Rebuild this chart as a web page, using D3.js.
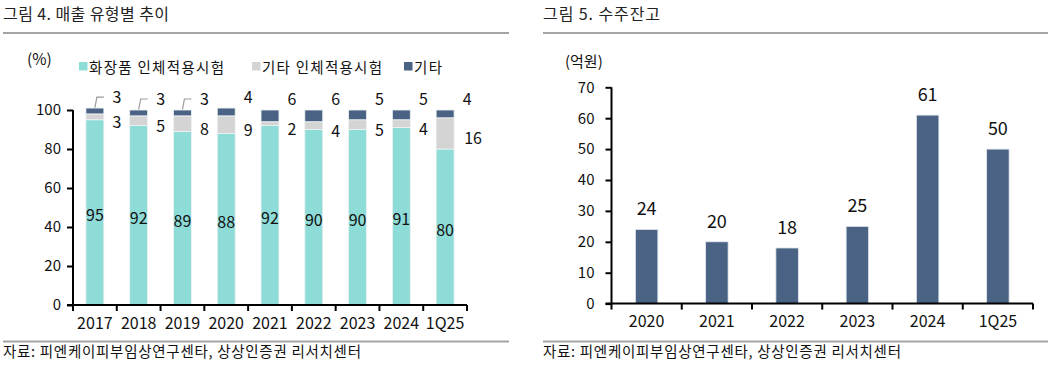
<!DOCTYPE html>
<html>
<head>
<meta charset="utf-8">
<script src="https://cdn.jsdelivr.net/npm/d3@7"></script>
<style>
  html, body { margin: 0; padding: 0; background: #fff; }
  svg { display: block; font-family: "Noto Sans CJK KR", "Noto Sans", sans-serif; }
</style>
</head>
<body>
<svg id="chart" width="1060" height="380"></svg>
<script>
// ---------- Data ----------
const leftTitle = "그림 4. 매출 유형별 추이";
const rightTitle = "그림 5. 수주잔고";
const sourceText = "자료: 피엔케이피부임상연구센타, 상상인증권 리서치센터";

const salesCategories = ["2017", "2018", "2019", "2020", "2021", "2022", "2023", "2024", "1Q25"];
const seriesNames = ["화장품 인체적용시험", "기타 인체적용시험", "기타"];
const cosmeticTrials = [95, 92, 89, 88, 92, 90, 90, 91, 80];
const otherTrials = [3, 5, 8, 9, 2, 4, 5, 4, 16];
const others = [3, 3, 3, 4, 6, 6, 5, 5, 4];
const leaderCategories = ["2017", "2018", "2019"];
const leftTicks = [0, 20, 40, 60, 80, 100];
const leftUnit = "(%)";

const backlogCategories = ["2020", "2021", "2022", "2023", "2024", "1Q25"];
const backlogValues = [24, 20, 18, 25, 61, 50];
const rightTicks = [0, 10, 20, 30, 40, 50, 60, 70];
const rightUnit = "(억원)";

// ---------- Styles ----------
const colors = ["#8edcd8", "#d4d4d4", "#4a6385"];
const textColor = "#111";
const ruleColor = "#a5a5a5";

const svg = d3.select("#chart");

// ---------- Headers / footers ----------
function frame(x0, x1, title, titleLen) {
  svg.append("text").attr("x", x0).attr("y", 20).attr("font-size", 16).attr("fill", "#222")
    .attr("textLength", titleLen).attr("lengthAdjust", "spacing").text(title);
  svg.append("line").attr("x1", x0).attr("x2", x1).attr("y1", 33).attr("y2", 33)
    .attr("stroke", ruleColor).attr("stroke-width", 2);
  svg.append("line").attr("x1", x0).attr("x2", x1).attr("y1", 341.5).attr("y2", 341.5)
    .attr("stroke", ruleColor).attr("stroke-width", 2);
  svg.append("text").attr("x", x0).attr("y", 357).attr("font-size", 14.5).attr("fill", "#111")
    .attr("textLength", 358).attr("lengthAdjust", "spacing").text(sourceText);
}
frame(3, 509, leftTitle, 166);
frame(543, 1048, rightTitle, 117);

// ---------- Left chart: stacked bars ----------
{
  const x = d3.scaleBand().domain(salesCategories).range([73, 467]).padding(0);
  const y = d3.scaleLinear().domain([0, 100]).range([305, 110]);
  const barW = x.bandwidth() * 0.41;
  const rows = salesCategories.map((c, i) => ({cat: c, s0: cosmeticTrials[i], s1: otherTrials[i], s2: others[i]}));
  const stack = d3.stack().keys(["s0", "s1", "s2"])(rows);

  const g = svg.append("g");
  stack.forEach((layer, li) => {
    g.selectAll(null).data(layer).enter().append("rect")
      .attr("x", d => x(d.data.cat) + x.bandwidth() / 2 - barW / 2)
      .attr("width", barW)
      .attr("y", d => y(d[1]))
      .attr("height", d => y(d[0]) - y(d[1]))
      .attr("fill", colors[li])
      .attr("stroke", "#eef3f3").attr("stroke-width", 0.8);
  });

  // axes
  const yAxis = d3.axisLeft(y).tickValues(leftTicks).tickSize(6).tickPadding(6);
  const ya = g.append("g").attr("transform", "translate(73,0)").call(yAxis);
  ya.select(".domain").attr("stroke", "#000").attr("stroke-width", 2).attr("d", "M0,110V305");
  ya.selectAll(".tick line").attr("stroke", "#000").attr("stroke-width", 2);
  ya.selectAll(".tick text").attr("font-size", 15).attr("fill", textColor).attr("font-family", "'Noto Sans CJK KR', sans-serif");

  const xAxis = d3.axisBottom(x).tickSize(0).tickPadding(13);
  const xa = g.append("g").attr("transform", "translate(0,305)").call(xAxis);
  xa.select(".domain").attr("stroke", "#000").attr("stroke-width", 2).attr("d", "M67,0H467");
  xa.selectAll(".tick text").attr("font-size", 16).attr("fill", textColor).attr("font-family", "'Noto Sans CJK KR', sans-serif");
  g.selectAll(null).data(salesCategories.concat(["__end"])).enter().append("line")
    .attr("x1", (d, i) => 73 + i * x.step()).attr("x2", (d, i) => 73 + i * x.step())
    .attr("y1", 305).attr("y2", 311).attr("stroke", "#000").attr("stroke-width", 2);

  // labels
  const cx = c => x(c) + x.bandwidth() / 2;
  g.selectAll(null).data(stack[0]).enter().append("text")
    .attr("x", d => cx(d.data.cat)).attr("y", d => (y(d[0]) + y(d[1])) / 2 + 2)
    .attr("text-anchor", "middle").attr("dominant-baseline", "central")
    .attr("font-size", 16).attr("fill", textColor).text(d => d.data.s0);
  g.selectAll(null).data(stack[1]).enter().append("text")
    .attr("x", d => cx(d.data.cat) + 22 + (String(d.data.s1).length - 1) * 6).attr("y", d => (y(d[0]) + y(d[1])) / 2 + 4)
    .attr("text-anchor", "middle").attr("dominant-baseline", "central")
    .attr("font-size", 16).attr("fill", textColor).text(d => d.data.s1);
  g.selectAll(null).data(stack[2]).enter().append("text")
    .attr("x", d => cx(d.data.cat) + 22).attr("y", d => y(d[1]) - 12)
    .attr("text-anchor", "middle").attr("dominant-baseline", "central")
    .attr("font-size", 16).attr("fill", textColor).text(d => d.data.s2);
  g.selectAll(null).data(stack[2].filter(d => leaderCategories.includes(d.data.cat))).enter().append("path")
    .attr("d", d => {
      const c = cx(d.data.cat), top = y(d[1]), ly = y(d[1]) - 11;
      return `M${c},${top - 0.5}L${c + 2},${ly}L${c + 9},${ly}`;
    })
    .attr("fill", "none").attr("stroke", "#9a9a9a").attr("stroke-width", 1.2);

  // unit + legend
  g.append("text").attr("x", 27).attr("y", 58).attr("dominant-baseline", "central")
    .attr("font-size", 15.5).attr("fill", textColor).text(leftUnit);
  const legendX = [79, 252, 404];
  const legendLen = [135, 120, 28];
  seriesNames.forEach((name, i) => {
    g.append("rect").attr("x", legendX[i]).attr("y", 62).attr("width", 8.5).attr("height", 8.5).attr("fill", colors[i]);
    g.append("text").attr("x", legendX[i] + 10).attr("y", 66).attr("dominant-baseline", "central")
      .attr("font-size", 14.5).attr("fill", textColor)
      .attr("textLength", legendLen[i]).attr("lengthAdjust", "spacing").text(name);
  });
}

// ---------- Right chart: bars ----------
{
  const x = d3.scaleBand().domain(backlogCategories).range([611.5, 1033]).padding(0);
  const y = d3.scaleLinear().domain([0, 70]).range([303.6, 87.3]);
  const barW = x.bandwidth() * 0.32;
  const g = svg.append("g");
  const data = backlogCategories.map((c, i) => ({cat: c, v: backlogValues[i]}));

  g.selectAll(null).data(data).enter().append("rect")
    .attr("x", d => x(d.cat) + x.bandwidth() / 2 - barW / 2)
    .attr("width", barW)
    .attr("y", d => y(d.v))
    .attr("height", d => y(0) - y(d.v))
    .attr("fill", colors[2])
    .attr("stroke", "#e3e8ee").attr("stroke-width", 0.8);

  g.selectAll(null).data(data).enter().append("text")
    .attr("x", d => x(d.cat) + x.bandwidth() / 2).attr("y", d => y(d.v) - 22)
    .attr("text-anchor", "middle").attr("dominant-baseline", "central")
    .attr("font-size", 18).attr("fill", textColor).text(d => d.v);

  const yAxis = d3.axisLeft(y).tickValues(rightTicks).tickSize(6).tickPadding(11);
  const ya = g.append("g").attr("transform", "translate(611.5,0)").call(yAxis);
  ya.select(".domain").attr("stroke", "#000").attr("stroke-width", 2).attr("d", "M0,87.3V303.6");
  ya.selectAll(".tick line").attr("stroke", "#000").attr("stroke-width", 2);
  ya.selectAll(".tick text").attr("font-size", 15).attr("fill", textColor).attr("font-family", "'Noto Sans CJK KR', sans-serif");

  const xAxis = d3.axisBottom(x).tickSize(0).tickPadding(12);
  const xa = g.append("g").attr("transform", "translate(0,303.6)").call(xAxis);
  xa.select(".domain").attr("stroke", "#000").attr("stroke-width", 2).attr("d", "M605.5,0H1033");
  xa.selectAll(".tick text").attr("font-size", 16).attr("fill", textColor).attr("font-family", "'Noto Sans CJK KR', sans-serif");
  g.selectAll(null).data(backlogCategories.concat(["__end"])).enter().append("line")
    .attr("x1", (d, i) => 611.5 + i * x.step()).attr("x2", (d, i) => 611.5 + i * x.step())
    .attr("y1", 303.6).attr("y2", 309.6).attr("stroke", "#000").attr("stroke-width", 2);

  g.append("text").attr("x", 565).attr("y", 60).attr("dominant-baseline", "central")
    .attr("font-size", 15).attr("fill", textColor).text(rightUnit);
}
</script>
</body>
</html>
